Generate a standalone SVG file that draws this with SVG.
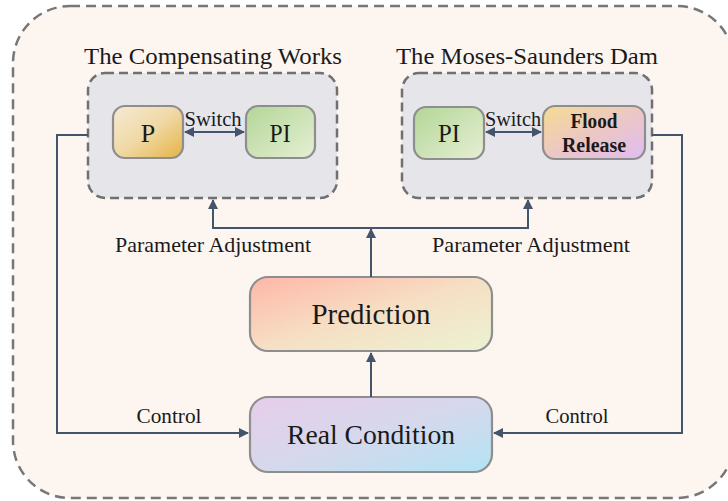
<svg xmlns="http://www.w3.org/2000/svg" width="728" height="501" viewBox="0 0 728 501">
<defs>
<style>
.t{font-family:"Liberation Serif","DejaVu Serif",serif;fill:#1a1a1a;text-anchor:middle}
.grp{fill:#e6e5ea;stroke:#707070;stroke-width:2.5;stroke-dasharray:9 5}
.box{stroke:#8e8e8e;stroke-width:2.2}
.ln{fill:none;stroke:#44546a;stroke-width:2}
</style>
<linearGradient id="gP" x1="0" y1="0" x2="1" y2="1"><stop offset="0" stop-color="#f6ead5"/><stop offset="0.5" stop-color="#f0d9a6"/><stop offset="1" stop-color="#e5b343"/></linearGradient>
<linearGradient id="gPI" x1="0" y1="0" x2="1" y2="1"><stop offset="0" stop-color="#b3d697"/><stop offset="1" stop-color="#e6efd4"/></linearGradient>
<linearGradient id="gF" x1="0" y1="0" x2="1" y2="1"><stop offset="0" stop-color="#f5dc92"/><stop offset="0.5" stop-color="#ecc7c4"/><stop offset="1" stop-color="#dfbdf2"/></linearGradient>
<linearGradient id="gPr" x1="0" y1="0" x2="1" y2="1"><stop offset="0" stop-color="#ffb6a8"/><stop offset="0.5" stop-color="#f6dfc4"/><stop offset="1" stop-color="#ebf3d2"/></linearGradient>
<linearGradient id="gR" x1="0" y1="0" x2="1" y2="1"><stop offset="0" stop-color="#e7cdea"/><stop offset="0.5" stop-color="#d6d8ec"/><stop offset="1" stop-color="#b2e4f4"/></linearGradient>
<marker id="ah" viewBox="0 0 10 10" refX="9" refY="5" markerWidth="5" markerHeight="5" orient="auto-start-reverse" markerUnits="strokeWidth"><path d="M0,0 L10,5 L0,10 z" fill="#44546a"/></marker>
</defs>
<rect x="13" y="6" width="721" height="492" rx="57" fill="#fdf5f0" stroke="#777" stroke-width="2.5" stroke-dasharray="10 6"/>

<g id="compensating-works">
<text class="t" x="213" y="64" font-size="24" textLength="258" lengthAdjust="spacingAndGlyphs">The Compensating Works</text>
<rect class="grp" x="88" y="73" width="249" height="125" rx="17"/>
</g>
<g id="moses-saunders">
<text class="t" x="527" y="64" font-size="24" textLength="262" lengthAdjust="spacingAndGlyphs">The Moses-Saunders Dam</text>
<rect class="grp" x="402" y="73" width="250" height="125" rx="17"/>
</g>
<g id="P">
<rect class="box" x="113" y="106" width="70" height="52" rx="12" fill="url(#gP)"/>
<text class="t" x="148" y="142" font-size="26">P</text>
</g>
<g id="PI-left">
<rect class="box" x="246" y="106" width="69" height="52" rx="12" fill="url(#gPI)"/>
<text class="t" x="280" y="142" font-size="26" textLength="21" lengthAdjust="spacingAndGlyphs">PI</text>
</g>
<g id="PI-right">
<rect class="box" x="414" y="107" width="70" height="52" rx="12" fill="url(#gPI)"/>
<text class="t" x="449" y="142" font-size="26" textLength="22" lengthAdjust="spacingAndGlyphs">PI</text>
</g>
<g id="flood-release">
<rect class="box" x="543" y="106" width="102" height="53" rx="12" fill="url(#gF)"/>
<text class="t" x="594" y="128" font-size="20" font-weight="bold" textLength="47" lengthAdjust="spacingAndGlyphs">Flood</text>
<text class="t" x="594" y="152" font-size="20" font-weight="bold" textLength="64" lengthAdjust="spacingAndGlyphs">Release</text>
</g>
<g id="prediction">
<rect class="box" x="250" y="277" width="242" height="74" rx="18" fill="url(#gPr)"/>
<text class="t" x="371" y="324" font-size="29" textLength="119" lengthAdjust="spacingAndGlyphs">Prediction</text>
</g>
<g id="real-condition">
<rect class="box" x="250" y="397" width="242" height="75" rx="18" fill="url(#gR)"/>
<text class="t" x="371" y="444" font-size="28" textLength="168" lengthAdjust="spacingAndGlyphs">Real Condition</text>
</g>

<g id="connectors">
<line class="ln" x1="185" y1="132" x2="244" y2="132" marker-start="url(#ah)" marker-end="url(#ah)"/>
<line class="ln" x1="486" y1="132" x2="541" y2="132" marker-start="url(#ah)" marker-end="url(#ah)"/>
<path class="ln" d="M88,135 H57 V433 H248" marker-end="url(#ah)"/>
<path class="ln" d="M652,135 H682 V433 H494" marker-end="url(#ah)"/>
<path class="ln" d="M371,397 V353" marker-end="url(#ah)"/>
<path class="ln" d="M371,277 V229" marker-end="url(#ah)"/>
<path class="ln" d="M371,228 H213 V200" marker-end="url(#ah)"/>
<path class="ln" d="M371,228 H528 V200" marker-end="url(#ah)"/>
<text class="t" x="213" y="126" font-size="20" textLength="57" lengthAdjust="spacingAndGlyphs">Switch</text>
<text class="t" x="513" y="126" font-size="20" textLength="56" lengthAdjust="spacingAndGlyphs">Switch</text>
<text class="t" x="213" y="252" font-size="21" textLength="196" lengthAdjust="spacingAndGlyphs">Parameter Adjustment</text>
<text class="t" x="531" y="252" font-size="21" textLength="198" lengthAdjust="spacingAndGlyphs">Parameter Adjustment</text>
<text class="t" x="169" y="423" font-size="21" textLength="65" lengthAdjust="spacingAndGlyphs">Control</text>
<text class="t" x="577" y="423" font-size="21" textLength="63" lengthAdjust="spacingAndGlyphs">Control</text>
</g>
</svg>
